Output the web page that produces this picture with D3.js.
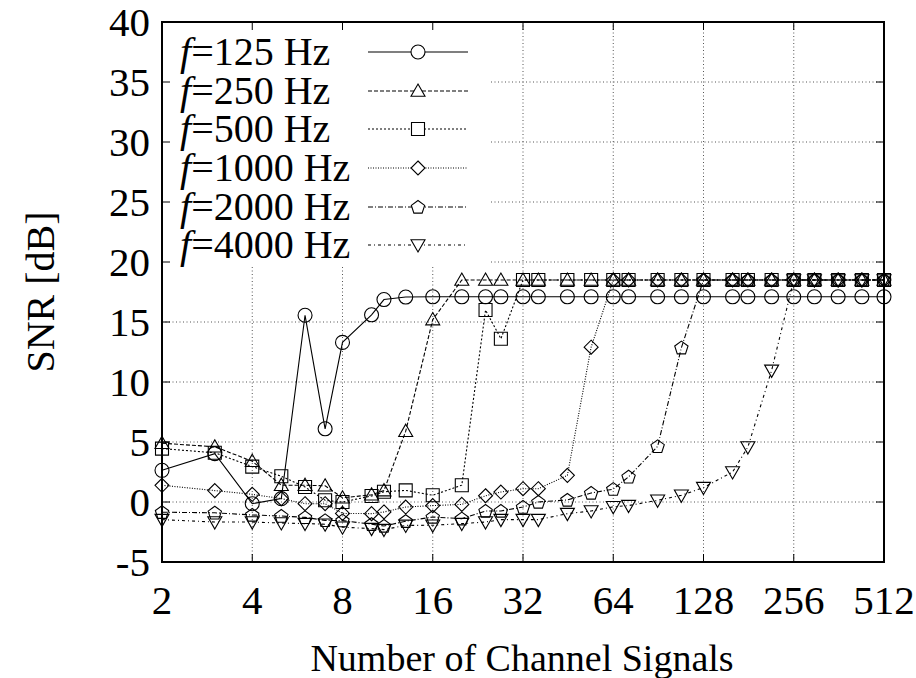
<!DOCTYPE html>
<html>
<head>
<meta charset="utf-8">
<script src="https://cdn.jsdelivr.net/npm/d3@7"></script>
<style>
  html, body { margin: 0; padding: 0; background: #fff; }
  text { font-family: "Liberation Serif", "Times New Roman", serif; fill: #000; }
</style>
</head>
<body>
<div id="chart"></div>
<script>
// channel counts on the x axis (log2)
const channels = [2, 3, 4, 5, 6, 7, 8, 10, 11, 13, 16, 20, 24, 27, 32, 36, 45, 54, 64, 72, 90, 108, 128, 160, 180, 216, 256, 300, 360, 432, 512];

// SNR [dB] per frequency
const snr125 = [2.64, 4.03, -0.14, 0.28, 15.56, 6.1, 13.3, 15.6, 16.87, 17.08, 17.1, 17.1, 17.1, 17.1, 17.1, 17.1, 17.1, 17.1, 17.1, 17.1, 17.1, 17.1, 17.1, 17.1, 17.1, 17.1, 17.1, 17.1, 17.1, 17.1, 17.1];
const snr250 = [4.9, 4.6, 3.4, 1.4, 1.4, 1.35, 0.35, 0.6, 0.95, 5.9, 15.2, 18.5, 18.5, 18.5, 18.5, 18.5, 18.5, 18.5, 18.5, 18.5, 18.5, 18.5, 18.5, 18.5, 18.5, 18.5, 18.5, 18.5, 18.5, 18.5, 18.5];
const snr500 = [4.45, 4.1, 2.95, 2.15, 1.25, 0.14, 0.0, 0.5, 0.85, 0.97, 0.56, 1.4, 16.0, 13.6, 18.5, 18.5, 18.5, 18.5, 18.5, 18.5, 18.5, 18.5, 18.5, 18.5, 18.5, 18.5, 18.5, 18.5, 18.5, 18.5, 18.5];
const snr1000 = [1.39, 0.95, 0.64, 0.28, -0.14, -0.14, -0.95, -0.97, -0.83, -0.42, -0.3, -0.2, 0.52, 0.83, 1.11, 1.11, 2.22, 12.9, 18.5, 18.5, 18.5, 18.5, 18.5, 18.5, 18.5, 18.5, 18.5, 18.5, 18.5, 18.5, 18.5];
const snr2000 = [-0.85, -0.9, -1.08, -1.17, -1.28, -1.53, -1.55, -1.85, -2.0, -1.6, -1.25, -1.39, -0.75, -0.75, -0.42, 0.0, 0.17, 0.75, 1.07, 2.1, 4.64, 12.86, 18.5, 18.5, 18.5, 18.5, 18.5, 18.5, 18.5, 18.5, 18.5];
const snr4000 = [-1.47, -1.67, -1.67, -1.75, -1.8, -1.85, -2.1, -2.22, -2.3, -1.95, -1.94, -1.8, -1.67, -1.47, -1.47, -1.47, -0.97, -0.75, -0.4, -0.3, 0.14, 0.56, 1.2, 2.5, 4.58, 10.97, 18.5, 18.5, 18.5, 18.5, 18.5];

const seriesLabels = ["125 Hz", "250 Hz", "500 Hz", "1000 Hz", "2000 Hz", "4000 Hz"];
const xTicks = [2, 4, 8, 16, 32, 64, 128, 256, 512];
const yTicks = [-5, 0, 5, 10, 15, 20, 25, 30, 35, 40];

const W = 916, H = 678;
const m = { left: 162, right: 884, top: 22, bottom: 562 };

const x = d3.scaleLog().base(2).domain([2, 512]).range([m.left, m.right]);
const y = d3.scaleLinear().domain([-5, 40]).range([m.bottom, m.top]);

const svg = d3.select("#chart").append("svg")
  .attr("width", W).attr("height", H);

// grid
svg.append("g").selectAll("line").data(xTicks.slice(1, -1)).join("line")
  .attr("x1", d => x(d)).attr("x2", d => x(d))
  .attr("y1", m.top).attr("y2", m.bottom)
  .attr("stroke", "#555").attr("stroke-width", 1).attr("stroke-dasharray", "1,2.5");
svg.append("g").selectAll("line").data(yTicks.slice(1, -1)).join("line")
  .attr("x1", m.left).attr("x2", m.right)
  .attr("y1", d => y(d)).attr("y2", d => y(d))
  .attr("stroke", "#555").attr("stroke-width", 1).attr("stroke-dasharray", "1,2.5");

// legend background hides the grid
svg.append("rect")
  .attr("x", m.left + 1).attr("y", m.top + 1)
  .attr("width", 328).attr("height", 242)
  .attr("fill", "#fff");

// ticks (mirrored, inward)
const tk = 8;
const ticks = svg.append("g").attr("stroke", "#000").attr("stroke-width", 1);
xTicks.forEach(d => {
  ticks.append("line").attr("x1", x(d)).attr("x2", x(d)).attr("y1", m.bottom).attr("y2", m.bottom - tk);
  ticks.append("line").attr("x1", x(d)).attr("x2", x(d)).attr("y1", m.top).attr("y2", m.top + tk);
});
yTicks.forEach(d => {
  ticks.append("line").attr("x1", m.left).attr("x2", m.left + tk).attr("y1", y(d)).attr("y2", y(d));
  ticks.append("line").attr("x1", m.right).attr("x2", m.right - tk).attr("y1", y(d)).attr("y2", y(d));
});

// tick labels
svg.append("g").selectAll("text").data(yTicks).join("text")
  .attr("x", 150).attr("y", d => y(d) + 14)
  .attr("text-anchor", "end").attr("font-size", 41)
  .text(d => d);
svg.append("g").selectAll("text").data(xTicks).join("text")
  .attr("x", d => x(d)).attr("y", 614)
  .attr("text-anchor", "middle").attr("font-size", 41)
  .text(d => d);

// axis titles
svg.append("text")
  .attr("x", 522).attr("y", 671)
  .attr("text-anchor", "middle").attr("font-size", 38)
  .text("Number of Channel Signals");
svg.append("text")
  .attr("transform", "translate(54,292) rotate(-90)")
  .attr("text-anchor", "middle").attr("font-size", 40)
  .text("SNR [dB]");

// markers
const S = 7;
function markerPath(kind) {
  if (kind === "circle") return d3.symbol(d3.symbolCircle, Math.PI * S * S)();
  if (kind === "up") return `M0,${-S}L${S},${S * 0.75}L${-S},${S * 0.75}Z`;
  if (kind === "down") return `M0,${S}L${S},${-S * 0.75}L${-S},${-S * 0.75}Z`;
  if (kind === "square") return `M${-S + 0.5},${-S + 0.5}h${2 * S - 1}v${2 * S - 1}h${-2 * S + 1}Z`;
  if (kind === "diamond") return `M0,${-S}L${S},0L0,${S}L${-S},0Z`;
  if (kind === "pentagon") {
    const pts = d3.range(5).map(i => {
      const a = -Math.PI / 2 + i * 2 * Math.PI / 5;
      return [S * Math.cos(a), S * Math.sin(a) + 0.5];
    });
    return "M" + pts.map(p => p.join(",")).join("L") + "Z";
  }
}

const series = [
  { values: snr125, marker: "circle", dash: null },
  { values: snr250, marker: "up", dash: "4,2" },
  { values: snr500, marker: "square", dash: "2,2" },
  { values: snr1000, marker: "diamond", dash: "1,1.5" },
  { values: snr2000, marker: "pentagon", dash: "5,2,1,2" },
  { values: snr4000, marker: "down", dash: "3,3,1,3" }
];

const line = d3.line().x(d => x(d[0])).y(d => y(d[1]));

series.forEach(s => {
  const pts = channels.map((c, i) => [c, s.values[i]]);
  svg.append("path")
    .datum(pts)
    .attr("d", line)
    .attr("fill", "none").attr("stroke", "#000").attr("stroke-width", 1.1)
    .attr("stroke-dasharray", s.dash);
  svg.append("g").selectAll("path").data(pts).join("path")
    .attr("transform", d => `translate(${x(d[0])},${y(d[1])})`)
    .attr("d", markerPath(s.marker))
    .attr("fill", "none").attr("stroke", "#000").attr("stroke-width", 1.1);
});

// legend
const rowY = [52, 91, 129, 168, 207, 245];
const leg = svg.append("g");
series.forEach((s, i) => {
  const t = leg.append("text").attr("x", 180).attr("y", rowY[i] + 13).attr("font-size", 40);
  t.append("tspan").attr("font-style", "italic").text("f");
  t.append("tspan").text("=" + seriesLabels[i]);
  leg.append("line")
    .attr("x1", 368).attr("x2", 468).attr("y1", rowY[i]).attr("y2", rowY[i])
    .attr("stroke", "#000").attr("stroke-width", 1.1)
    .attr("stroke-dasharray", s.dash);
  leg.append("path")
    .attr("transform", `translate(418,${rowY[i]})`)
    .attr("d", markerPath(s.marker))
    .attr("fill", "#fff").attr("stroke", "#000").attr("stroke-width", 1.1);
});

// frame
svg.append("rect")
  .attr("x", m.left).attr("y", m.top)
  .attr("width", m.right - m.left).attr("height", m.bottom - m.top)
  .attr("fill", "none").attr("stroke", "#000").attr("stroke-width", 2);
</script>
</body>
</html>
